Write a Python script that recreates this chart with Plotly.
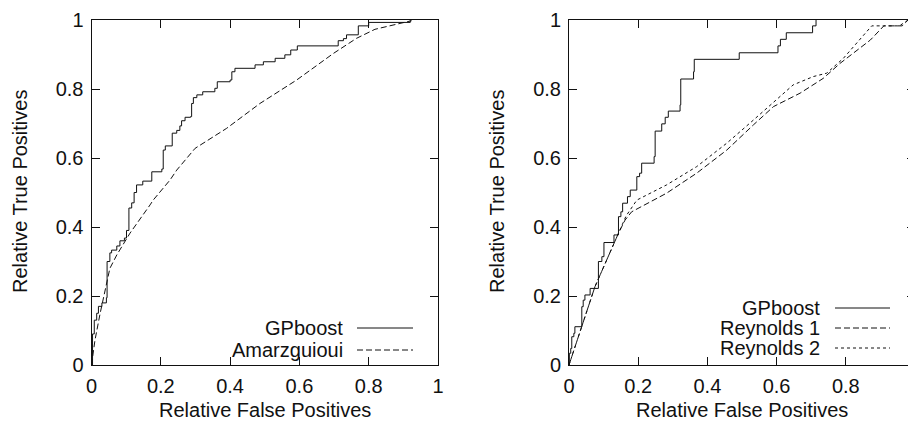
import plotly.graph_objects as go

# ---------------- data ----------------
left_gp_x = [0, 0.003, 0.008, 0.015, 0.02, 0.03, 0.043, 0.045, 0.053, 0.058, 0.073, 0.082, 0.095,
             0.101, 0.108, 0.116, 0.123, 0.13, 0.148, 0.174, 0.203, 0.207, 0.213, 0.233, 0.246,
             0.255, 0.26, 0.27, 0.286, 0.289, 0.294, 0.304, 0.321, 0.356, 0.363, 0.40, 0.405,
             0.414, 0.472, 0.496, 0.53, 0.558, 0.575, 0.594, 0.712, 0.727, 0.736, 0.77, 0.80, 0.92]
left_gp_y = [0, 0.09, 0.13, 0.15, 0.17, 0.18, 0.195, 0.30, 0.325, 0.333, 0.345, 0.36, 0.368,
             0.39, 0.455, 0.47, 0.50, 0.522, 0.533, 0.56, 0.568, 0.623, 0.635, 0.672, 0.68,
             0.693, 0.708, 0.718, 0.72, 0.758, 0.775, 0.783, 0.792, 0.802, 0.821, 0.826, 0.85,
             0.86, 0.87, 0.879, 0.889, 0.899, 0.913, 0.925, 0.94, 0.946, 0.957, 0.983, 0.993, 1.0]

left_am_x = [0, 0.01, 0.025, 0.039, 0.053, 0.073, 0.111, 0.169, 0.178, 0.2265, 0.246, 0.299,
             0.39, 0.486, 0.592, 0.698, 0.765, 0.818, 0.871, 0.924]
left_am_y = [0, 0.072, 0.15, 0.217, 0.28, 0.319, 0.382, 0.464, 0.478, 0.536, 0.565, 0.628,
             0.686, 0.758, 0.826, 0.903, 0.947, 0.973, 0.986, 0.998]

right_gp_x = [0, 0.001, 0.005, 0.008, 0.014, 0.017, 0.037, 0.041, 0.046, 0.061, 0.085, 0.095,
              0.101, 0.13, 0.143, 0.15, 0.155, 0.169, 0.177, 0.196, 0.204, 0.21, 0.246, 0.249,
              0.268, 0.278, 0.287, 0.321, 0.323, 0.36, 0.362, 0.492, 0.604, 0.611, 0.628,
              0.704, 0.714]
right_gp_y = [0, 0.034, 0.048, 0.082, 0.092, 0.111, 0.169, 0.188, 0.203, 0.222, 0.30, 0.314,
              0.355, 0.377, 0.43, 0.444, 0.469, 0.488, 0.507, 0.546, 0.556, 0.585, 0.604, 0.678,
              0.699, 0.718, 0.736, 0.754, 0.829, 0.85, 0.886, 0.905, 0.925, 0.944, 0.963,
              0.983, 1.0]

right_r1_x = [0, 0.075, 0.143, 0.162, 0.181, 0.282, 0.369, 0.456, 0.533, 0.591, 0.668, 0.735,
              0.783, 0.871, 0.91, 0.963, 0.98]
right_r1_y = [0, 0.227, 0.382, 0.42, 0.444, 0.498, 0.556, 0.623, 0.696, 0.749, 0.788, 0.831,
              0.874, 0.942, 0.983, 0.983, 1.0]

right_r2_x = [0, 0.075, 0.143, 0.165, 0.196, 0.282, 0.369, 0.456, 0.533, 0.648, 0.706, 0.745,
              0.793, 0.875, 0.955, 0.98]
right_r2_y = [0, 0.227, 0.382, 0.432, 0.478, 0.522, 0.575, 0.643, 0.71, 0.812, 0.836, 0.846,
              0.889, 0.983, 0.983, 1.0]

tick_vals = [0, 0.2, 0.4, 0.6, 0.8, 1]
tick_text = ["0", "0.2", "0.4", "0.6", "0.8", "1"]

x_title = "Relative False Positives"
y_title = "Relative True Positives"
left_names = ["GPboost", "Amarzguioui"]
right_names = ["GPboost", "Reynolds 1", "Reynolds 2"]

# ---------------- styling ----------------
W, H = 916, 425
OFF = 8  # default page body margin
FONT = "Liberation Sans, Arial, Helvetica, sans-serif"
FS = 20
INK = "#111111"
solid = dict(color=INK, width=1)
dash1 = dict(color=INK, width=1, dash="6px,3px")
dash2 = dict(color=INK, width=1, dash="3px,3px")

fig = go.Figure()
fig.add_trace(go.Scatter(x=left_gp_x, y=left_gp_y, mode="lines", line=dict(shape="hv", **solid),
                         xaxis="x", yaxis="y", showlegend=False))
fig.add_trace(go.Scatter(x=left_am_x, y=left_am_y, mode="lines", line=dash1,
                         xaxis="x", yaxis="y", showlegend=False))
fig.add_trace(go.Scatter(x=right_gp_x, y=right_gp_y, mode="lines", line=dict(shape="hv", **solid),
                         xaxis="x2", yaxis="y2", showlegend=False))
fig.add_trace(go.Scatter(x=right_r1_x, y=right_r1_y, mode="lines", line=dash1,
                         xaxis="x2", yaxis="y2", showlegend=False))
fig.add_trace(go.Scatter(x=right_r2_x, y=right_r2_y, mode="lines", line=dash2,
                         xaxis="x2", yaxis="y2", showlegend=False))

axis_common = dict(range=[0, 1], tickvals=tick_vals, ticktext=tick_text, ticks="inside",
                   ticklen=8, tickcolor=INK, showline=True, linecolor=INK, linewidth=1,
                   mirror="ticks", showgrid=False, zeroline=False, automargin=False,
                   tickfont=dict(family=FONT, size=FS, color=INK), ticklabelstandoff=3)

def px_x(p):
    return (p - OFF) / W

def px_y(p):
    return 1 - (p - OFF) / H

ydom = [px_y(365), px_y(20)]
fig.update_layout(
    template="none",
    width=W, height=H, margin=dict(l=0, r=0, t=0, b=0, autoexpand=False),
    paper_bgcolor="white", plot_bgcolor="white",
    xaxis=dict(domain=[px_x(91.5), px_x(438)], anchor="y", **axis_common),
    yaxis=dict(domain=ydom, anchor="x", **axis_common),
    xaxis2=dict(domain=[px_x(569), px_x(915)], anchor="y2", **axis_common),
    yaxis2=dict(domain=ydom, anchor="x2", **axis_common),
    showlegend=False,
)

anns = []
# axis titles
for cx in [(91.5 + 438) / 2, (569 + 915) / 2]:
    anns.append(dict(text=x_title, x=px_x(cx), y=px_y(410), xref="paper", yref="paper",
                     showarrow=False, xanchor="center", yanchor="middle",
                     font=dict(family=FONT, size=FS, color=INK)))
for cx in [20, 497]:
    anns.append(dict(text=y_title, x=px_x(cx), y=px_y(192), xref="paper", yref="paper",
                     showarrow=False, xanchor="center", yanchor="middle", textangle=-90,
                     font=dict(family=FONT, size=FS, color=INK)))

shapes = []
# left legend
for name, ly, ln in zip(left_names, [328, 350], [solid, dash1]):
    anns.append(dict(text=name, x=px_x(345), y=px_y(ly), xref="paper", yref="paper",
                     showarrow=False, xanchor="right", yanchor="middle",
                     font=dict(family=FONT, size=FS, color=INK)))
    shapes.append(dict(type="line", xref="paper", yref="paper", x0=px_x(357), x1=px_x(413),
                       y0=px_y(ly), y1=px_y(ly), line=ln))
# right legend
for name, ly, ln in zip(right_names, [308, 328, 348], [solid, dash1, dash2]):
    anns.append(dict(text=name, x=px_x(822), y=px_y(ly), xref="paper", yref="paper",
                     showarrow=False, xanchor="right", yanchor="middle",
                     font=dict(family=FONT, size=FS, color=INK)))
    shapes.append(dict(type="line", xref="paper", yref="paper", x0=px_x(835), x1=px_x(890),
                       y0=px_y(ly), y1=px_y(ly), line=ln))

fig.update_layout(annotations=anns, shapes=shapes)
fig.write_html("out.html")
